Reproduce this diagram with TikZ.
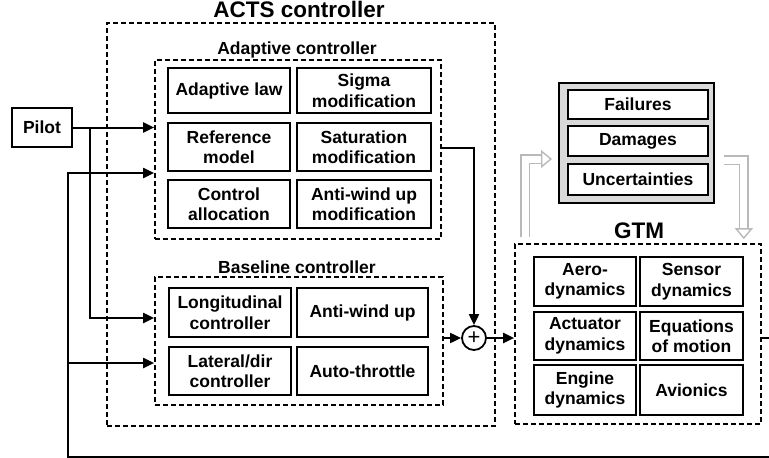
\documentclass[tikz,border=0pt]{standalone}
\usepackage{fontspec}
\setmainfont{Liberation Sans}
\usetikzlibrary{arrows.meta}

\begin{document}
\begin{tikzpicture}[x=1pt,y=-1pt,
    font=\bfseries\fontsize{17.5}{20.5}\selectfont,
    blk/.style={draw,line width=2.2pt,align=center,inner sep=0pt},
    grp/.style={draw,line width=1.7pt,dash pattern=on 5pt off 3pt,inner sep=0pt},
    big/.style={font=\bfseries\fontsize{22.5}{24}\selectfont,anchor=base},
    sub/.style={anchor=base},
    sig/.style={line width=2pt,-{Triangle[length=11pt,width=10pt]}},
    hollow/.style={draw=gray!55,line width=1.4pt,double=white,double distance=7pt,
      -{Triangle[open,length=11pt,width=18pt]}}]
  \useasboundingbox (0,0) rectangle (769,458);

  % groups
  \node[grp,minimum width=388,minimum height=403] (acts) at (301,224.5) {};
  \node[grp,minimum width=286,minimum height=179] (adapt) at (298,149.5) {};
  \node[grp,minimum width=288,minimum height=128] (base) at (299,341) {};
  \node[grp,minimum width=246,minimum height=180] (gtm) at (638,334) {};
  \node[big] at (299,17) {ACTS controller};
  \node[sub] at (297,54.5) {Adaptive controller};
  \node[sub] at (297,273) {Baseline controller};
  \node[big] at (639,238) {GTM};

  % adaptive controller
  \node[blk,minimum width=122,minimum height=45] (law) at (229,90.5) {Adaptive law};
  \node[blk,minimum width=134,minimum height=45] (sigma) at (364,90.5) {Sigma\\modification};
  \node[blk,minimum width=122,minimum height=48] (ref) at (229,147) {Reference\\model};
  \node[blk,minimum width=134,minimum height=48] (sat) at (364,147) {Saturation\\modification};
  \node[blk,minimum width=122,minimum height=48] (alloc) at (229,204) {Control\\allocation};
  \node[blk,minimum width=134,minimum height=48] (awm) at (364,204) {Anti-wind up\\modification};

  % baseline controller
  \node[blk,minimum width=122,minimum height=49] (lon) at (230,312.5) {Longitudinal\\controller};
  \node[blk,minimum width=131,minimum height=49] (aw) at (362.5,312.5) {Anti-wind up};
  \node[blk,minimum width=122,minimum height=48] (lat) at (230,371) {Lateral/dir\\controller};
  \node[blk,minimum width=131,minimum height=48] (thr) at (362.5,371) {Auto-throttle};

  % aircraft model
  \node[blk,minimum width=102,minimum height=49] (aero) at (585,281.5) {Aero-\\dynamics};
  \node[blk,minimum width=103,minimum height=49] (sens) at (691.5,281.5) {Sensor\\dynamics};
  \node[blk,minimum width=102,minimum height=48] (act) at (585,336) {Actuator\\dynamics};
  \node[blk,minimum width=103,minimum height=48] (eom) at (691.5,336) {Equations\\of motion};
  \node[blk,minimum width=102,minimum height=50] (eng) at (585,390) {Engine\\dynamics};
  \node[blk,minimum width=103,minimum height=50] (avi) at (691.5,390) {Avionics};

  % failures
  \node[draw,line width=2pt,fill=gray!30,minimum width=155,minimum height=120] (dist) at (636.5,143) {};
  \foreach \n/\y/\h/\t in {fail/104.5/29/Failures,dam/141/30/Damages,unc/179.5/31/Uncertainties}
    \node[blk,fill=white,minimum width=140,minimum height=\h] (\n) at (638,\y) {\t};

  \node[blk,minimum width=60,minimum height=39] (pilot) at (42,127.5) {Pilot};
  \node[draw,circle,line width=1.8pt,minimum size=24,inner sep=0pt,
    font=\mdseries\fontsize{22}{22}\selectfont] (sum) at (474,338) {+};
  \coordinate (fbR) at (776,338);
  \coordinate (fbL) at (68,457);

  % signals
  \draw[sig] (pilot.east) -- (pilot.east -| adapt.west);
  \draw[sig] ([xshift=17pt]pilot.east) |- ([yshift=-5.5pt]lon.west -| base.west);
  \draw[sig] ([yshift=1.5pt]adapt.east) -| (sum.north);
  \draw[sig] (sum -| base.east) -- (sum.west);
  \draw[sig] (sum.east) -- (sum -| gtm.west);
  \draw[sig] (sum -| gtm.east) -- (fbR) |- (fbL) |- ([yshift=-26pt]ref.west -| adapt.west);
  \draw[sig] ([yshift=8pt]lat.west -| fbL) -- ([yshift=8pt]lat.west -| base.west);

  \draw[hollow] ([xshift=11pt,yshift=6pt]gtm.north west) |- ([xshift=-6pt,yshift=-16pt]dist.west);
  \draw[hollow] ([xshift=9pt,yshift=-17pt]dist.east) -| ([xshift=-18pt,yshift=4pt]gtm.north east);
\end{tikzpicture}
\end{document}
